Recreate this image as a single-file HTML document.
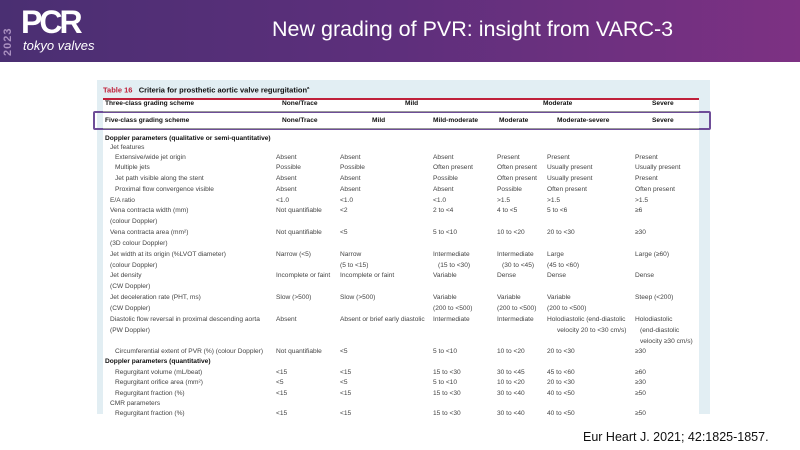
<!DOCTYPE html>
<html><head><meta charset="utf-8"><style>
body{margin:0;width:800px;height:450px;overflow:hidden;background:#fff;font-family:"Liberation Sans",sans-serif;position:relative}
#hdr{position:absolute;left:0;top:0;width:800px;height:62px;background:linear-gradient(90deg,#4a2f72 0%,#5e2f7c 50%,#7d3183 100%)}
#panel{position:absolute;left:97px;top:80px;width:613px;height:334px;background:#e2eef3}
#inner{position:absolute;left:103px;top:99px;width:596px;height:315px;background:#fff}
.t{position:absolute;font-size:6.6px;color:#444;white-space:nowrap;line-height:8px}
.b{font-weight:bold;color:#111}
</style></head><body>
<div id="hdr">
 <div style="position:absolute;left:2px;top:8px;width:14px;height:48px;color:#aa90c0;font-size:11px;font-weight:bold;writing-mode:vertical-rl;transform:rotate(180deg);letter-spacing:1px">2023</div>
 <div style="position:absolute;left:21px;top:4px;color:#fff;font-size:32px;font-weight:bold;letter-spacing:-3px">PCR</div>
 <div style="position:absolute;left:23px;top:38px;color:#fff;font-size:13px;font-style:italic">tokyo valves</div>
 <div style="position:absolute;left:272px;top:17px;color:#fff;font-size:21.5px">New grading of PVR: insight from VARC-3</div>
</div>
<div id="panel"></div>
<div id="inner"></div>
<div class="t b" style="left:103px;top:84px;font-size:7.5px"><span style="color:#c0203a">Table 16</span>&nbsp;&nbsp; Criteria for prosthetic aortic valve regurgitation<sup style="font-size:4px">a</sup></div>
<div style="position:absolute;left:103px;top:98px;width:596px;height:1.5px;background:#c0203a"></div>
<div style="position:absolute;left:93px;top:111px;width:614px;height:15px;border:2.5px solid #6e4d98;border-radius:2px"></div>
<div id="rows"></div>
<div style="position:absolute;left:583px;top:430px;font-size:12.5px;color:#111">Eur Heart J. 2021; 42:1825-1857.</div>
<script>
const colX=[105,276,340,433,497,547,635];
const rows=[
[104,'b',['Three-class grading scheme','None/Trace','','Mild','','Moderate','Severe'],[105,282,0,405,0,543,652]],
[121,'b',['Five-class grading scheme','None/Trace','Mild','Mild-moderate','Moderate','Moderate-severe','Severe'],[105,282,372,433,499,557,652]],
[139,'b',['Doppler parameters (qualitative or semi-quantitative)']],
[148,'',['  Jet features']],
[158,'',['    Extensive/wide jet origin','Absent','Absent','Absent','Present','Present','Present']],
[168,'',['    Multiple jets','Possible','Possible','Often present','Often present','Usually present','Usually present']],
[179,'',['    Jet path visible along the stent','Absent','Absent','Possible','Often present','Usually present','Present']],
[190,'',['    Proximal flow convergence visible','Absent','Absent','Absent','Possible','Often present','Often present']],
[201,'',['  E/A ratio','<1.0','<1.0','<1.0','>1.5','>1.5','>1.5']],
[211,'',['  Vena contracta width (mm)','Not quantifiable','<2','2 to <4','4 to <5','5 to <6','≥6']],
[222,'',['  (colour Doppler)']],
[233,'',['  Vena contracta area (mm²)','Not quantifiable','<5','5 to <10','10 to <20','20 to <30','≥30']],
[244,'',['  (3D colour Doppler)']],
[255,'',['  Jet width at its origin (%LVOT diameter)','Narrow (<5)','Narrow','Intermediate','Intermediate','Large','Large (≥60)']],
[266,'',['  (colour Doppler)','','(5 to <15)','  (15 to <30)','  (30 to <45)','(45 to <60)','']],
[276,'',['  Jet density','Incomplete or faint','Incomplete or faint','Variable','Dense','Dense','Dense']],
[287,'',['  (CW Doppler)']],
[298,'',['  Jet deceleration rate (PHT, ms)','Slow (>500)','Slow (>500)','Variable','Variable','Variable','Steep (<200)']],
[309,'',['  (CW Doppler)','','','(200 to <500)','(200 to <500)','(200 to <500)','']],
[320,'',['  Diastolic flow reversal in proximal descending aorta','Absent','Absent or brief early diastolic','Intermediate','Intermediate','Holodiastolic (end-diastolic','Holodiastolic']],
[331,'',['  (PW Doppler)','','','','','    velocity 20 to <30 cm/s)','  (end-diastolic']],
[342,'',['','','','','','','  velocity ≥30 cm/s)']],
[352,'',['    Circumferential extent of PVR (%) (colour Doppler)','Not quantifiable','<5','5 to <10','10 to <20','20 to <30','≥30']],
[362,'b',['Doppler parameters (quantitative)']],
[373,'',['    Regurgitant volume (mL/beat)','<15','<15','15 to <30','30 to <45','45 to <60','≥60']],
[383,'',['    Regurgitant orifice area (mm²)','<5','<5','5 to <10','10 to <20','20 to <30','≥30']],
[394,'',['    Regurgitant fraction (%)','<15','<15','15 to <30','30 to <40','40 to <50','≥50']],
[404,'',['  CMR parameters']],
[414,'',['    Regurgitant fraction (%)','<15','<15','15 to <30','30 to <40','40 to <50','≥50']]
];
const host=document.getElementById('rows');
rows.forEach((r,i)=>{
 const xs=r[3]||colX;
 r[2].forEach((txt,j)=>{
  if(!txt)return;
  const d=document.createElement('div');
  d.className='t'+(r[1]?' b':'');
  
  
  const lead=txt.match(/^ */)[0].length;
  d.textContent=txt.trimStart();
  d.style.left=(xs[j]+lead*2.5)+'px';
  d.style.top=(r[0]-4)+'px';
  host.appendChild(d);
 });
 if(i<2){
  const l=document.createElement('div');
  
  
  l.style.cssText='position:absolute;left:103px;width:596px;height:1px;background:#999;top:'+(r[0]+7)+'px';
  host.appendChild(l);
 }
});
</script>
</body></html>
